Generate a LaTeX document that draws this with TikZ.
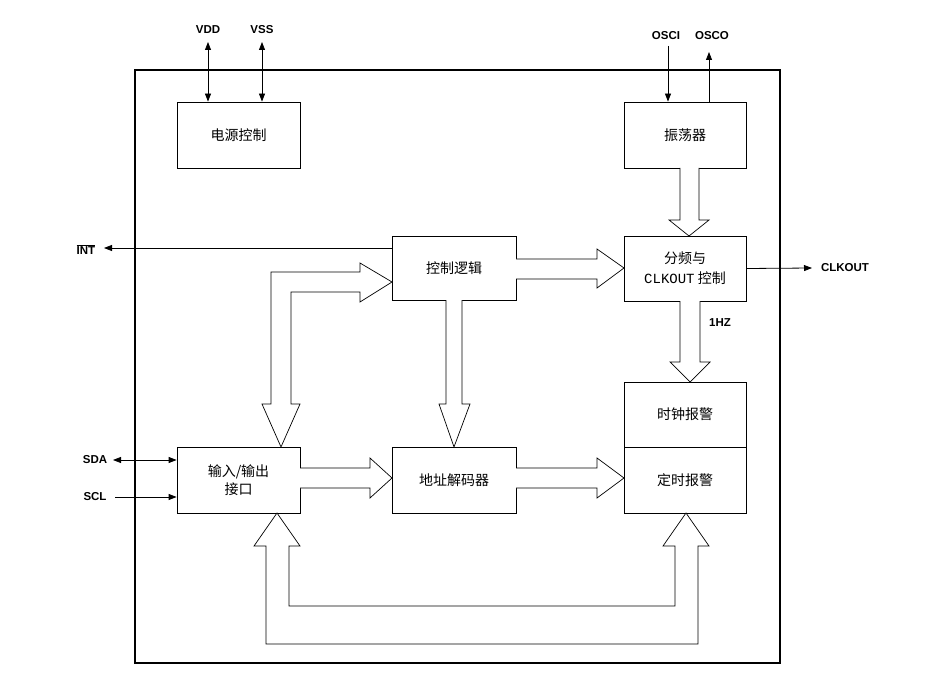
\documentclass[tikz,border=0pt]{standalone}
\usepackage{fontspec}
\setmainfont{Liberation Sans}
\newfontfamily\cjk{Noto Sans CJK SC}
\newfontfamily\monof{Liberation Mono}
\usetikzlibrary{arrows.meta}
\begin{document}
\begin{tikzpicture}[x=1pt,y=-1pt,
  blk/.style={draw,line width=0.8pt,inner sep=0pt,font=\cjk\fontsize{14}{18}\selectfont,align=center},
  hol/.style={draw,line width=0.7pt,fill=white},
  sig/.style={line width=0.8pt,-{Triangle[length=8pt,width=6pt]}},
  sig2/.style={line width=0.8pt,{Triangle[length=8pt,width=6pt]}-{Triangle[length=8pt,width=6pt]}},
  lab/.style={font=\bfseries\fontsize{11.5}{13}\selectfont}]
\useasboundingbox (0,0) rectangle (934,676);
\draw[line width=1.2pt] (135,70) rectangle (780,663);
\node[blk,minimum width=123pt,minimum height=66pt] (pwr) at (238.5,135) {电源控制};
\node[blk,minimum width=122pt,minimum height=66pt] (osc) at (685,135) {振荡器};
\node[blk,minimum width=124pt,minimum height=64pt] (ctl) at (454,268) {控制逻辑};
\node[blk,minimum width=122pt,minimum height=65pt] (div) at (685,268.5) {分频与\\[2pt]{\monof CLKOUT} 控制};
\node[blk,minimum width=122pt,minimum height=65pt] (clk) at (685,414.5) {时钟报警};
\node[blk,minimum width=122pt,minimum height=66pt] (tmr) at (685,480) {定时报警};
\node[blk,minimum width=123pt,minimum height=66pt] (io) at (238.5,480) {输入/输出\\接口};
\node[blk,minimum width=124pt,minimum height=66pt] (adr) at (454,480) {地址解码器};
% labels
\node[lab] (vdd) at (208,30) {VDD};
\node[lab] (vss) at (262,30) {VSS};
\node[lab] (osci) at (666,36) {OSCI};
\node[lab] (osco) at (712,36) {OSCO};
\node[lab] (int) at (86,250) {$\overline{\mbox{INT}}$};
\node[lab] (clkout) at (845,268) {CLKOUT};
\node[lab] (sda) at (95,460) {SDA};
\node[lab] (scl) at (95,497) {SCL};
\node[lab] (hz) at (720,323) {1HZ};
\coordinate (vddt) at (208,42); \coordinate (vsst) at (262,42);
\coordinate (oscit) at (668,46); \coordinate (oscot) at (709,52);
\coordinate (inte) at (104,248); \coordinate (clke) at (812,268);
\coordinate (sdae) at (113,460); \coordinate (scle) at (115,497);
\draw[sig2] (vddt) -- (vddt |- pwr.north);
\draw[sig2] (vsst) -- (vsst |- pwr.north);
\draw[sig] (oscit) -- (oscit |- osc.north);
\draw[sig] (oscot |- osc.north) -- (oscot);
\draw[sig] (ctl.west |- inte) -- (inte);
\draw[sig] (div.east) -- (clke);
\draw[sig2] (sdae) -- (io.west |- sdae);
\draw[sig] (scle) -- (io.west |- scle);
% hollow arrows
\draw[hol] (680,168)--(680,220)--(669,220)--(689,236)--(709,220)--(699,220)--(699,168);
\draw[hol] (680,301)--(680,362)--(670,362)--(690,382)--(710,362)--(700,362)--(700,301);
\draw[hol] (516,259)--(597,259)--(597,249)--(624,268)--(597,288)--(597,279)--(516,279);
\draw[hol] (446,300)--(446,404)--(439,404)--(454,447)--(470,404)--(462,404)--(462,300);
\draw[hol] (360,272)--(271,272)--(271,404)--(262,404)--(281,447)--(300,404)--(291,404)--(291,292)--(360,292)--(360,302)--(392,282)--(360,263)--cycle;
\draw[hol] (300,468)--(370,468)--(370,458)--(392,478)--(370,498)--(370,488)--(300,488);
\draw[hol] (516,468)--(597,468)--(597,458)--(624,478)--(597,498)--(597,488)--(516,488);
\draw[hol] (266,546)--(254,546)--(277,513)--(300,546)--(289,546)--(289,606)--(675,606)--(675,546)--(663,546)--(686,513)--(709,546)--(698,546)--(698,644)--(266,644)--cycle;
\end{tikzpicture}
\end{document}
